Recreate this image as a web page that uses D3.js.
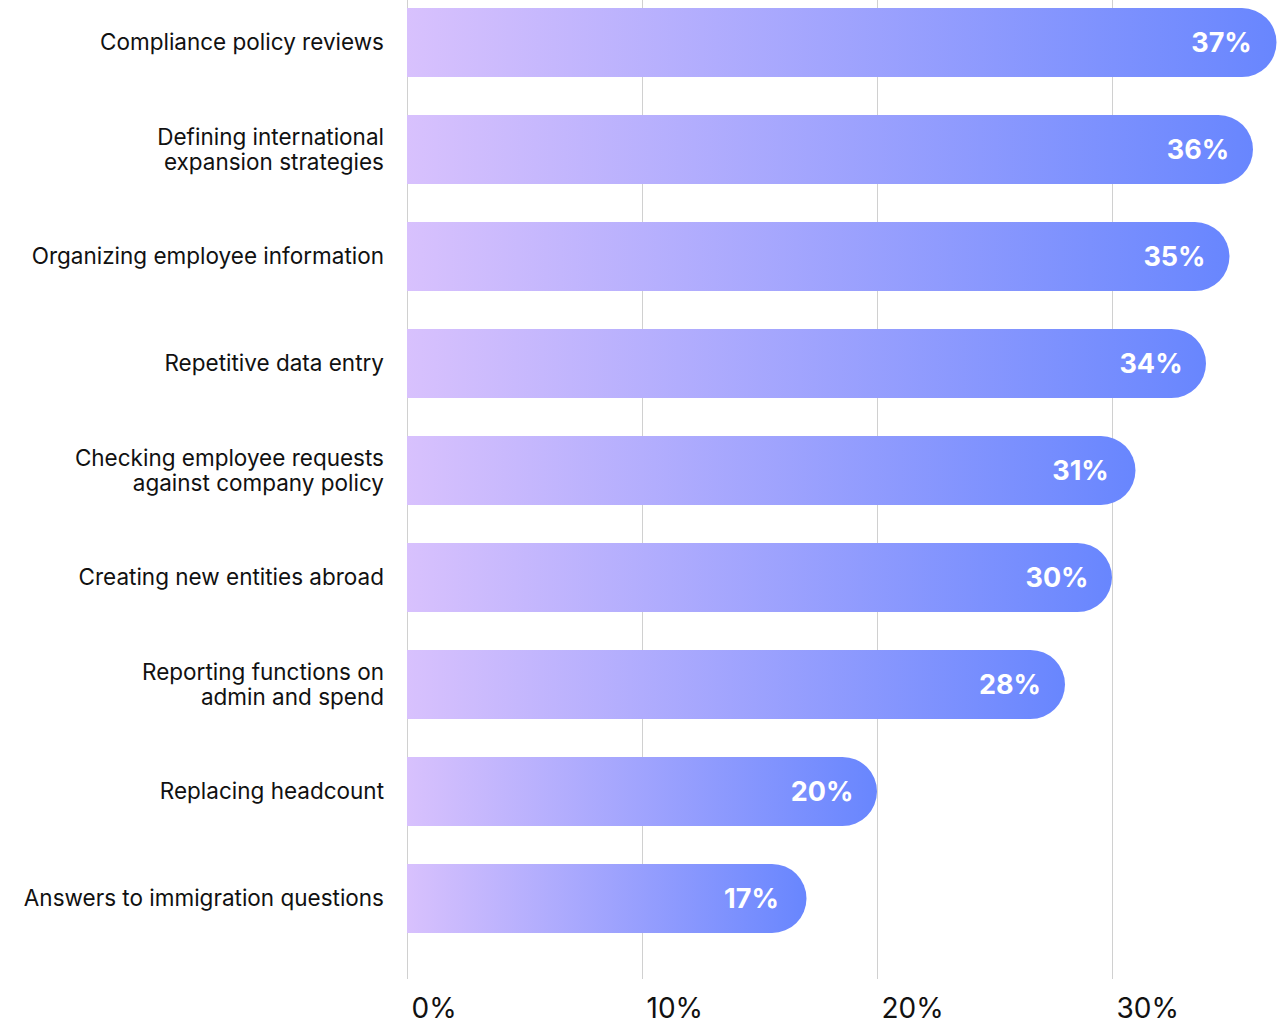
<!DOCTYPE html>
<html>
<head>
<meta charset="utf-8">
<script src="https://cdn.jsdelivr.net/npm/d3@7"></script>
<style>
  html, body { margin: 0; padding: 0; background: #ffffff; }
  svg { display: block; font-family: "Inter", "Roboto", sans-serif; }
</style>
</head>
<body>
<svg id="chart" width="1287" height="1024"></svg>
<script>
// Share of respondents naming each task
const categories = [
  ["Compliance policy reviews"],
  ["Defining international", "expansion strategies"],
  ["Organizing employee information"],
  ["Repetitive data entry"],
  ["Checking employee requests", "against company policy"],
  ["Creating new entities abroad"],
  ["Reporting functions on", "admin and spend"],
  ["Replacing headcount"],
  ["Answers to immigration questions"]
];
const values = [37, 36, 35, 34, 31, 30, 28, 20, 17];
const tickValues = [0, 10, 20, 30];
const tickLabels = ["0%", "10%", "20%", "30%"];

const svg = d3.select("#chart");
const x = d3.scaleLinear().domain([0, 10]).range([407, 642]);
const y = d3.scaleBand()
  .domain(d3.range(values.length))
  .range([8, 933])
  .paddingInner(0.355)
  .paddingOuter(0);

// Horizontal gradient applied per bar
const defs = svg.append("defs");
const grad = defs.append("linearGradient")
  .attr("id", "barGrad")
  .attr("x1", "0%").attr("x2", "100%")
  .attr("y1", "0%").attr("y2", "0%");
grad.append("stop").attr("offset", "0%").attr("stop-color", "#d8c1fd");
grad.append("stop").attr("offset", "100%").attr("stop-color", "#6886fe");

// Vertical gridlines
svg.append("g")
  .selectAll("line")
  .data(tickValues)
  .join("line")
  .attr("x1", d => x(d) + 0.5)
  .attr("x2", d => x(d) + 0.5)
  .attr("y1", 0)
  .attr("y2", 979)
  .attr("stroke", "#d0d0d0")
  .attr("stroke-width", 1);

// Bars: square on the left, fully rounded on the right
const bh = y.bandwidth();
function barPath(v, i) {
  const x0 = x(0), x1 = x(v), y0 = y(i), r = bh / 2;
  return `M${x0},${y0}H${x1 - r}A${r},${r} 0 0 1 ${x1 - r},${y0 + bh}H${x0}Z`;
}
svg.append("g")
  .selectAll("path")
  .data(values)
  .join("path")
  .attr("d", (d, i) => barPath(d, i))
  .attr("fill", "url(#barGrad)");

// Value labels inside the bar ends
svg.append("g")
  .selectAll("text")
  .data(values)
  .join("text")
  .attr("x", d => x(d) - 55)
  .attr("y", (d, i) => y(i) + bh / 2)
  .attr("dy", "0.35em")
  .attr("text-anchor", "middle")
  .attr("fill", "#ffffff")
  .attr("font-size", 27)
  .attr("font-weight", 700)
  .text(d => d + "%");

// Category labels, right aligned against the axis
const labels = svg.append("g")
  .selectAll("text")
  .data(categories)
  .join("text")
  .attr("text-anchor", "end")
  .attr("fill", "#111111")
  .attr("font-size", 22.5)
  .attr("transform", (d, i) => `translate(384, ${y(i) + bh / 2})`);
labels.selectAll("tspan")
  .data(d => d.map((t, k) => ({ t, k, n: d.length })))
  .join("tspan")
  .attr("x", 0)
  .attr("y", d => (d.k - (d.n - 1) / 2) * 24.5)
  .attr("dy", "0.35em")
  .text(d => d.t);

// Bottom axis labels
const axis = d3.axisBottom(x)
  .tickValues(tickValues)
  .tickFormat((d, i) => tickLabels[i])
  .tickSize(0)
  .tickPadding(0);
const gAxis = svg.append("g")
  .attr("transform", "translate(0, 990)")
  .call(axis);
gAxis.select(".domain").remove();
gAxis.selectAll("text")
  .attr("text-anchor", "start")
  .attr("x", 4)
  .attr("y", 0)
  .attr("dy", "1.0em")
  .attr("font-size", 28)
  .attr("font-family", "Inter, Roboto, sans-serif")
  .attr("fill", "#111111");
</script>
</body>
</html>
